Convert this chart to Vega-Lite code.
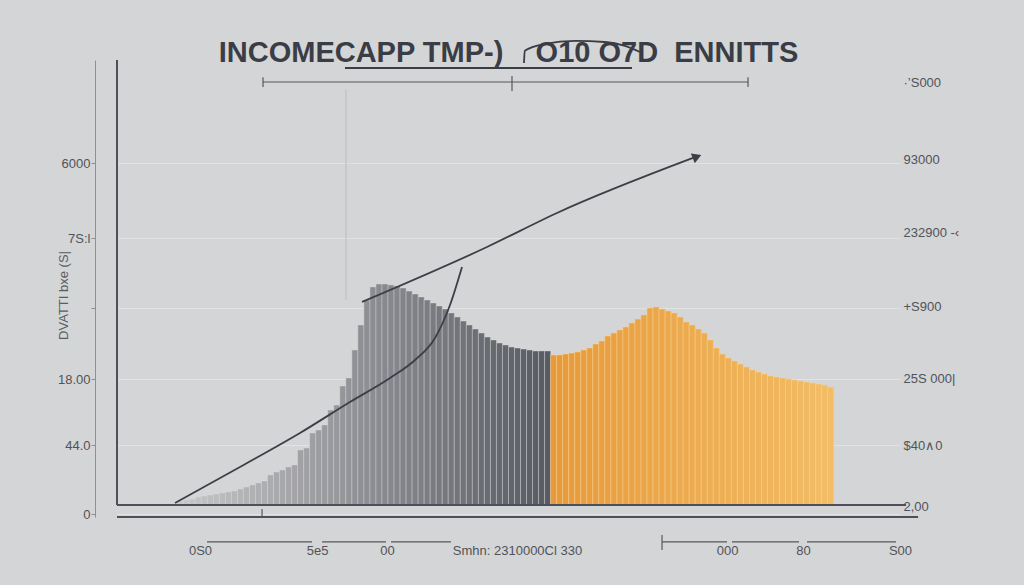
{
  "$schema": "https://vega.github.io/schema/vega-lite/v6.json",
  "width": 783,
  "height": 457,
  "autosize": {"type": "none"},
  "padding": {"left": 117, "top": 60, "right": 124, "bottom": 68},
  "background": "#d4d5d6",
  "config": {"view": {"stroke": null}, "font": "Liberation Sans"},
  "title": {
    "text": "INCOMECAPP TMP-)\u00a0\u00a0\u00a0\u00a0O10 O7D\u00a0\u00a0ENNITTS",
    "fontSize": 29,
    "fontWeight": "bold",
    "color": "#3a3d45",
    "anchor": "middle",
    "frame": "group",
    "offset": 0,
    "dy": 31,
    "font": "Liberation Sans"
  },
  "datasets": {
    "gray": [
      {"x": 10, "y": 70}, {"x": 11, "y": 87}, {"x": 12, "y": 104}, {"x": 13, "y": 139},
      {"x": 14, "y": 157}, {"x": 15, "y": 174}, {"x": 16, "y": 191}, {"x": 17, "y": 209},
      {"x": 18, "y": 226}, {"x": 19, "y": 243}, {"x": 20, "y": 278}, {"x": 21, "y": 313},
      {"x": 22, "y": 348}, {"x": 23, "y": 383}, {"x": 24, "y": 417}, {"x": 25, "y": 522},
      {"x": 26, "y": 574}, {"x": 27, "y": 609}, {"x": 28, "y": 661}, {"x": 29, "y": 696},
      {"x": 30, "y": 957}, {"x": 31, "y": 991}, {"x": 32, "y": 1252}, {"x": 33, "y": 1304},
      {"x": 34, "y": 1391}, {"x": 35, "y": 1652}, {"x": 36, "y": 1739}, {"x": 37, "y": 2070},
      {"x": 38, "y": 2209}, {"x": 39, "y": 2696}, {"x": 40, "y": 3131}, {"x": 41, "y": 3566},
      {"x": 42, "y": 3792}, {"x": 43, "y": 3844}, {"x": 44, "y": 3844}, {"x": 45, "y": 3827},
      {"x": 46, "y": 3809}, {"x": 47, "y": 3774}, {"x": 48, "y": 3722}, {"x": 49, "y": 3670},
      {"x": 50, "y": 3618}, {"x": 51, "y": 3566}, {"x": 52, "y": 3514}, {"x": 53, "y": 3461},
      {"x": 54, "y": 3409}, {"x": 55, "y": 3340}, {"x": 56, "y": 3270}, {"x": 57, "y": 3200},
      {"x": 58, "y": 3131}, {"x": 59, "y": 3061}, {"x": 60, "y": 2992}, {"x": 61, "y": 2922},
      {"x": 62, "y": 2870}, {"x": 63, "y": 2818}, {"x": 64, "y": 2783}, {"x": 65, "y": 2748},
      {"x": 66, "y": 2731}, {"x": 67, "y": 2713}, {"x": 68, "y": 2696}, {"x": 69, "y": 2679},
      {"x": 70, "y": 2679}, {"x": 71, "y": 2679}
    ],
    "orange": [
      {"x": 72, "y": 2609}, {"x": 73, "y": 2609}, {"x": 74, "y": 2626}, {"x": 75, "y": 2644},
      {"x": 76, "y": 2661}, {"x": 77, "y": 2696}, {"x": 78, "y": 2731}, {"x": 79, "y": 2800},
      {"x": 80, "y": 2852}, {"x": 81, "y": 2939}, {"x": 82, "y": 2992}, {"x": 83, "y": 3044},
      {"x": 84, "y": 3096}, {"x": 85, "y": 3166}, {"x": 86, "y": 3235}, {"x": 87, "y": 3305},
      {"x": 88, "y": 3426}, {"x": 89, "y": 3444}, {"x": 90, "y": 3409}, {"x": 91, "y": 3374},
      {"x": 92, "y": 3340}, {"x": 93, "y": 3270}, {"x": 94, "y": 3183}, {"x": 95, "y": 3131},
      {"x": 96, "y": 3061}, {"x": 97, "y": 2992}, {"x": 98, "y": 2870}, {"x": 99, "y": 2731},
      {"x": 100, "y": 2626}, {"x": 101, "y": 2557}, {"x": 102, "y": 2505}, {"x": 103, "y": 2452},
      {"x": 104, "y": 2400}, {"x": 105, "y": 2348}, {"x": 106, "y": 2313}, {"x": 107, "y": 2278},
      {"x": 108, "y": 2244}, {"x": 109, "y": 2226}, {"x": 110, "y": 2209}, {"x": 111, "y": 2191},
      {"x": 112, "y": 2174}, {"x": 113, "y": 2157}, {"x": 114, "y": 2139}, {"x": 115, "y": 2122},
      {"x": 116, "y": 2104}, {"x": 117, "y": 2087}, {"x": 118, "y": 2052}
    ],
    "lines": [
      {"s": "a", "o": 1, "x": 9.13, "y": 35},
      {"s": "a", "o": 2, "x": 19.92, "y": 661},
      {"s": "a", "o": 3, "x": 29.88, "y": 1252},
      {"s": "a", "o": 4, "x": 38.18, "y": 1791},
      {"s": "a", "o": 5, "x": 44.83, "y": 2209},
      {"s": "a", "o": 6, "x": 48.98, "y": 2522},
      {"s": "a", "o": 7, "x": 52.3, "y": 2905},
      {"s": "a", "o": 8, "x": 54.79, "y": 3479},
      {"s": "a", "o": 9, "x": 56.78, "y": 4140},
      {"s": "b", "o": 1, "x": 40.18, "y": 3531},
      {"s": "b", "o": 2, "x": 60.93, "y": 4487},
      {"s": "b", "o": 3, "x": 72.55, "y": 5079},
      {"s": "b", "o": 4, "x": 95.13, "y": 6036}
    ],
    "arc": [
      {"o": 1, "x": 67.07, "y": 7688},
      {"o": 2, "x": 67.2, "y": 7900},
      {"o": 3, "x": 70.56, "y": 8019},
      {"o": 4, "x": 75.54, "y": 8071},
      {"o": 5, "x": 80.52, "y": 8053},
      {"o": 6, "x": 83.84, "y": 7984},
      {"o": 7, "x": 86.33, "y": 7879}
    ],
    "arrow": [{"x": 95.8, "y": 6060}],
    "darkRules": [
      {"x": -0.5, "x2": -0.5, "y": 0, "y2": 7740},
      {"x": -0.5, "x2": 132.5, "y": -209, "y2": -209},
      {"x": -0.5, "x2": 130.5, "y": 0, "y2": 0}
    ],
    "thinRules": [
      {"x": 23.74, "x2": 104.27, "y": 7357, "y2": 7357},
      {"x": 23.74, "x2": 23.74, "y": 7270, "y2": 7440},
      {"x": 65.08, "x2": 65.08, "y": 7200, "y2": 7460},
      {"x": 104.27, "x2": 104.27, "y": 7270, "y2": 7440},
      {"x": 14.44, "x2": 31.88, "y": -643, "y2": -643},
      {"x": 33.54, "x2": 44.16, "y": -643, "y2": -643},
      {"x": 44.99, "x2": 54.95, "y": -643, "y2": -643},
      {"x": 89.99, "x2": 100.78, "y": -643, "y2": -643},
      {"x": 101.61, "x2": 112.73, "y": -643, "y2": -643},
      {"x": 114.06, "x2": 128.83, "y": -643, "y2": -643},
      {"x": 89.99, "x2": 89.99, "y": -522, "y2": -783},
      {"x": 23.58, "x2": 23.58, "y": -209, "y2": -70}
    ],
    "underline": [{"x": 37.35, "x2": 85.0, "y": 7601, "y2": 7601}],
    "faint": [{"x": 37.52, "x2": 37.52, "y": 3565, "y2": 7225}]
  },
  "encoding": {
    "x": {
      "field": "x",
      "type": "quantitative",
      "scale": {"domain": [-0.5, 129.5], "nice": false, "zero": false, "padding": 0},
      "axis": {
        "title": null,
        "domain": false,
        "ticks": false,
        "grid": false,
        "values": [13.28, 32.71, 44.33, 65.91, 100.78, 113.4, 129.5],
        "labelExpr": "datum.value==13.28?'0S0':datum.value==32.71?'5e5':datum.value==44.33?'00':datum.value==65.91?'Smhn: 2310000Cl 330':datum.value==100.78?'000':datum.value==113.4?'80':'S00'",
        "labelPadding": 27,
        "labelFontSize": 13,
        "labelColor": "#505359",
        "labelOverlap": false,
        "labelFlush": false,
        "labelBound": false
      }
    },
    "y": {
      "field": "y",
      "type": "quantitative",
      "scale": {"domain": [-209, 7740], "nice": false, "zero": false, "padding": 0},
      "axis": null
    }
  },
  "layer": [
    {
      "data": {"name": "gray"},
      "mark": {"type": "bar", "width": 6.1, "stroke": "#d6d7d9", "strokeWidth": 0.8, "strokeOpacity": 0.55},
      "encoding": {
        "y": {
          "field": "y",
          "type": "quantitative",
          "stack": null,
          "axis": {
            "orient": "left",
            "offset": 22,
            "title": "DVATTI bxe (S|",
            "titleFontSize": 13,
            "titleFontWeight": "normal",
            "titleColor": "#5a5d63",
            "titleX": -25,
            "titleY": 235,
            "titleAngle": -90,
            "values": [5948, 4643, 3426, 2191, 1043, -157],
            "labelExpr": "datum.value==5948?'6000':datum.value==4643?'7S:l':datum.value==2191?'18.00':datum.value==1043?'44.0':datum.value==-157?'0':''",
            "labelFontSize": 13,
            "labelColor": "#505359",
            "labelPadding": 1,
            "tickSize": 4,
            "tickColor": "#8e9096",
            "domainColor": "#8e9096",
            "domainWidth": 1,
            "grid": true,
            "gridColor": "#f2f2f2",
            "gridOpacity": 0.45
          }
        },
        "color": {
          "field": "x",
          "type": "quantitative",
          "scale": {"domain": [10, 71], "range": ["#c8c8ca", "#585b62"]},
          "legend": null
        }
      }
    },
    {
      "data": {"name": "orange"},
      "mark": {"type": "bar", "width": 6.1, "stroke": "#f7d597", "strokeWidth": 0.8, "strokeOpacity": 0.6},
      "encoding": {
        "y": {
          "field": "y",
          "type": "quantitative",
          "stack": null,
          "axis": {
            "orient": "right",
            "title": null,
            "domain": false,
            "ticks": false,
            "grid": false,
            "values": [7340, 6001, 4731, 3444, 2192, 1026, -35],
            "labelExpr": "datum.value==7340?'·’S000':datum.value==6001?'93000':datum.value==4731?'232900 -‹':datum.value==3444?'+S900':datum.value==2192?'25S 000|':datum.value==1026?'$40∧0':'2,00'",
            "labelFontSize": 13,
            "labelColor": "#505359",
            "labelPadding": 3
          }
        },
        "color": {
          "field": "x",
          "type": "quantitative",
          "scale": {"domain": [72, 118], "range": ["#e8993a", "#f2bd66"]},
          "legend": null
        }
      }
    },
    {
      "data": {"name": "faint"},
      "mark": {"type": "rule", "color": "#bcbdc0", "strokeWidth": 1},
      "encoding": {"x2": {"field": "x2"}, "y2": {"field": "y2"}}
    },
    {
      "data": {"name": "darkRules"},
      "mark": {"type": "rule", "color": "#4d5058", "strokeWidth": 2},
      "encoding": {"x2": {"field": "x2"}, "y2": {"field": "y2"}}
    },
    {
      "data": {"name": "thinRules"},
      "mark": {"type": "rule", "color": "#55585f", "strokeWidth": 1.2},
      "encoding": {"x2": {"field": "x2"}, "y2": {"field": "y2"}}
    },
    {
      "data": {"name": "underline"},
      "mark": {"type": "rule", "color": "#3a3d45", "strokeWidth": 1.8},
      "encoding": {"x2": {"field": "x2"}, "y2": {"field": "y2"}}
    },
    {
      "data": {"name": "arc"},
      "mark": {"type": "line", "color": "#3a3d45", "strokeWidth": 1.8, "interpolate": "monotone"},
      "encoding": {"order": {"field": "o", "type": "quantitative"}}
    },
    {
      "data": {"name": "lines"},
      "mark": {"type": "line", "color": "#3c3f47", "strokeWidth": 1.8, "interpolate": "monotone"},
      "encoding": {
        "detail": {"field": "s", "type": "nominal"},
        "order": {"field": "o", "type": "quantitative"}
      }
    },
    {
      "data": {"name": "arrow"},
      "mark": {"type": "point", "shape": "triangle-right", "filled": true, "size": 110, "angle": 338, "color": "#3c3f47", "opacity": 1},
      "encoding": {}
    }
  ],
  "resolve": {"axis": {"y": "independent"}, "scale": {"color": "independent"}}
}
